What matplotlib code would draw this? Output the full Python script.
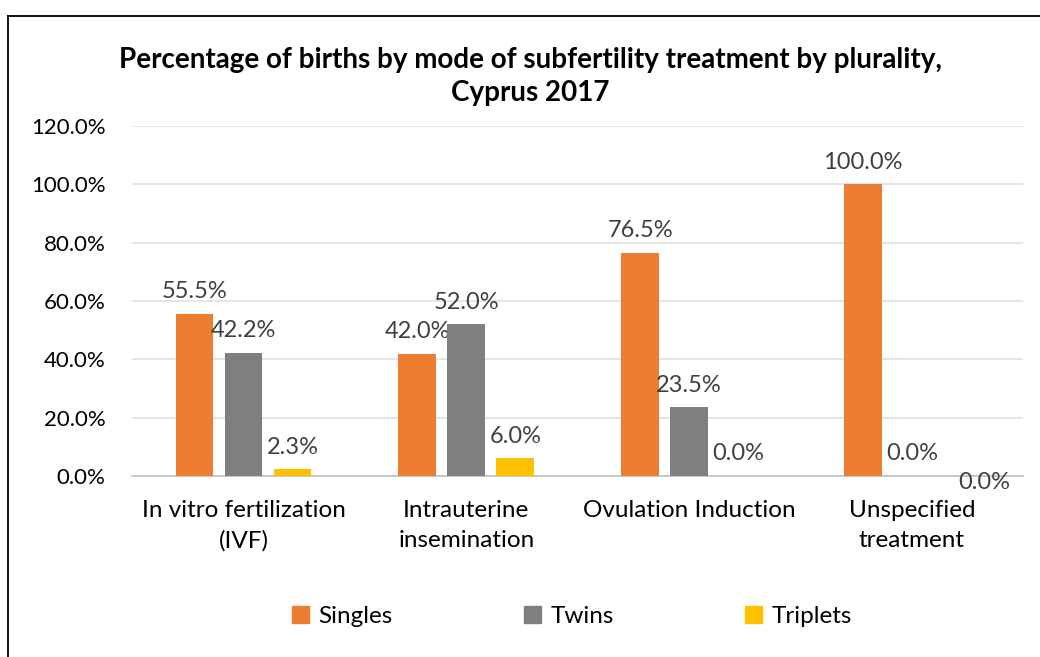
import matplotlib.pyplot as plt
import numpy as np
from matplotlib.patches import Patch
from matplotlib.lines import Line2D

plt.rcParams['font.family'] = ['Lato', 'DejaVu Sans']

# data
categories = ['In vitro fertilization\n(IVF)', 'Intrauterine\ninsemination',
              'Ovulation Induction', 'Unspecified\ntreatment']
series_names = ['Singles', 'Twins', 'Triplets']
singles = [55.5, 42.0, 76.5, 100.0]
twins = [42.2, 52.0, 23.5, 0.0]
triplets = [2.3, 6.0, 0.0, 0.0]
yticks = [0, 20, 40, 60, 80, 100, 120]

colors = ['#ED7D31', '#7F7F7F', '#FFC000']

fig = plt.figure(figsize=(10.4, 6.57), dpi=100)
ax = fig.add_axes([0.127, 0.2755, 0.857, 0.5327])

x = np.arange(len(categories))
width = 0.17
step = 0.22
for i, (vals, name) in enumerate(zip([singles, twins, triplets], series_names)):
    pos = x + (i - 1) * step
    ax.bar(pos, vals, width, color=colors[i], label=name, zorder=3)
    for j, (px, v) in enumerate(zip(pos, vals)):
        if i == 2 and j == 3:
            # Excel pushed this label below the axis
            ax.annotate(f'{v:.1f}%', (px, v), xytext=(17, -5), textcoords='offset points',
                        ha='center', va='center', fontsize=17, color='#404040')
        else:
            ax.annotate(f'{v:.1f}%', (px, v), xytext=(0, 16), textcoords='offset points',
                        ha='center', va='center', fontsize=17, color='#404040')

ax.set_xlim(-0.5, 3.5)
ax.set_ylim(0, 120)
ax.set_yticks(yticks)
ax.set_yticklabels([f'{v:.1f}%' for v in yticks], fontsize=16)
ax.set_xticks(x)
ax.set_xticklabels(categories, fontsize=17.5, linespacing=1.55)
ax.tick_params(length=0)
ax.tick_params(axis='x', pad=17)
ax.tick_params(axis='y', pad=19)
ax.yaxis.grid(True, color='#E0E0E0', linewidth=1.2, zorder=0)
for s in ['top', 'right', 'left']:
    ax.spines[s].set_visible(False)
ax.spines['bottom'].set_color('#BFBFBF')
ax.spines['bottom'].set_linewidth(1.2)

fig.text(0.51, 0.884, 'Percentage of births by mode of subfertility treatment by plurality,\nCyprus 2017',
         ha='center', va='center', fontsize=20, fontweight='bold', linespacing=1.35)

handles = [Patch(color=c) for c in colors]
fig.legend(handles, series_names, loc='center', bbox_to_anchor=(0.55, 0.062), ncol=3,
           frameon=False, fontsize=17.5, handlelength=0.7, handleheight=0.7,
           handletextpad=0.4, columnspacing=5.4)

# chart border (cropped at right and bottom)
fig.add_artist(Line2D([8 / 1040, 8 / 1040], [0, 1 - 16 / 657], color='black', linewidth=1.3))
fig.add_artist(Line2D([8 / 1040, 1], [1 - 16 / 657, 1 - 16 / 657], color='black', linewidth=1.3))

plt.savefig('out.png')
